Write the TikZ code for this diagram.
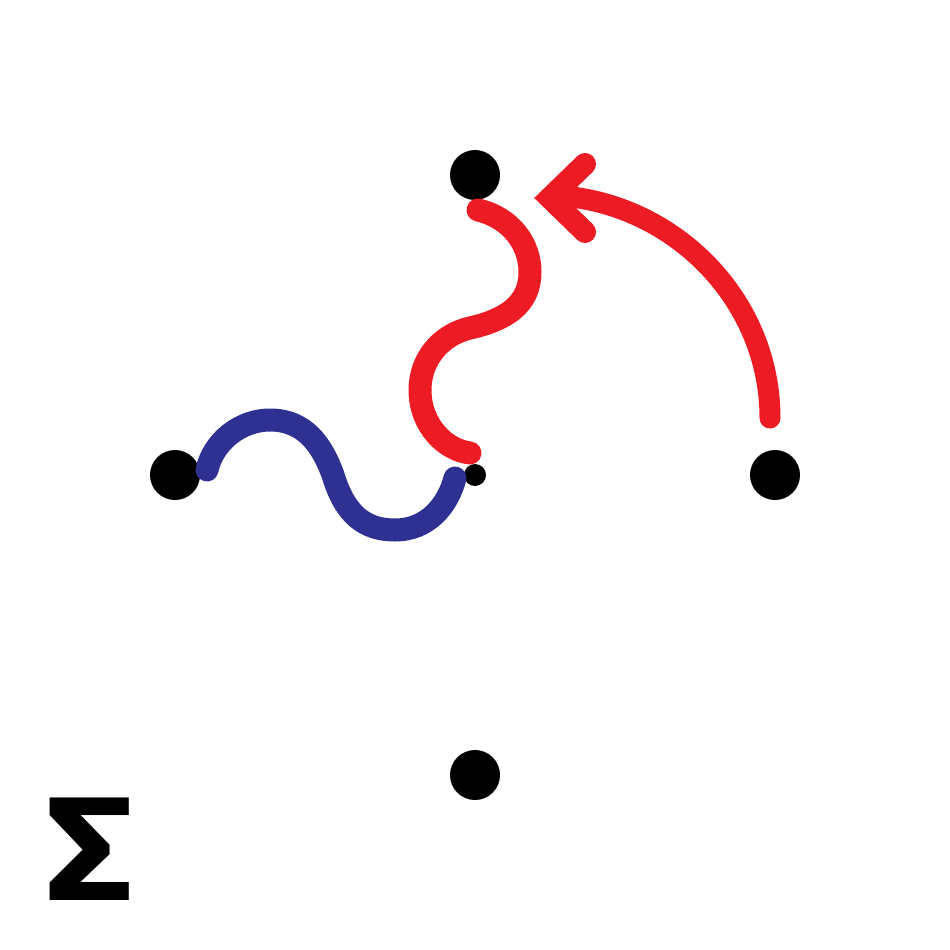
\documentclass[tikz,border=0pt]{standalone}
\usepackage{fontspec}
\newfontfamily\sigmafont{Fira Sans}
\definecolor{cred}{HTML}{ED1C24}
\definecolor{cblue}{HTML}{2E3192}
\tikzset{
  bigdot/.style={circle,fill=black,minimum size=50pt,inner sep=0pt},
  smalldot/.style={circle,fill=black,minimum size=22pt,inner sep=0pt},
  wave/.style={line width=23pt,line cap=round},
  arcline/.style={line width=21pt,line cap=round,color=cred},
  chevron/.style={line width=22pt,line cap=round,line join=miter,color=cred},
  sigmalabel/.style={inner sep=0pt,xscale=1.16,font=\sigmafont\bfseries\fontsize{148}{148}\selectfont}
}
\begin{document}
\begin{tikzpicture}[x=1pt,y=-1pt]
\useasboundingbox (0,0) rectangle (950,950);
\node[bigdot] (T) at (475,175) {};
\node[bigdot] (L) at (175,475) {};
\node[bigdot] (R) at (775,475) {};
\node[bigdot] (B) at (475,775) {};
\node[smalldot] (C) at (475,475) {};
\node[sigmalabel] (S) at (90,849) {Σ};
% coordinates for connector ends
\coordinate (b1) at (207,470);
\coordinate (b2) at (455,478);
\coordinate (r1) at (478,210);
\coordinate (r2) at (470,453);
\coordinate (a1) at (770,418);
\coordinate (a2) at (562,196);
\coordinate (tip) at (550,198);
\coordinate (w1) at (585,164);
\coordinate (w2) at (585,232);
% blue wave
\draw[wave,cblue] (b1) .. controls (213,442) and (240,420) .. (270,420)
  .. controls (305,420) and (322,445) .. (333,475)
  .. controls (345,515) and (365,530) .. (395,530)
  .. controls (428,530) and (448,505) .. (b2);
% red wave
\draw[wave,cred] (r1) .. controls (512,218) and (530,245) .. (530,272)
  .. controls (530,305) and (505,320) .. (470,328)
  .. controls (440,335) and (420,360) .. (420,390)
  .. controls (420,425) and (445,450) .. (r2);
% red arc arrow
\draw[arcline] (a1) .. controls (770,300) and (675,205) .. (a2);
\draw[chevron] (w1) -- (tip) -- (w2);
\end{tikzpicture}
\end{document}
